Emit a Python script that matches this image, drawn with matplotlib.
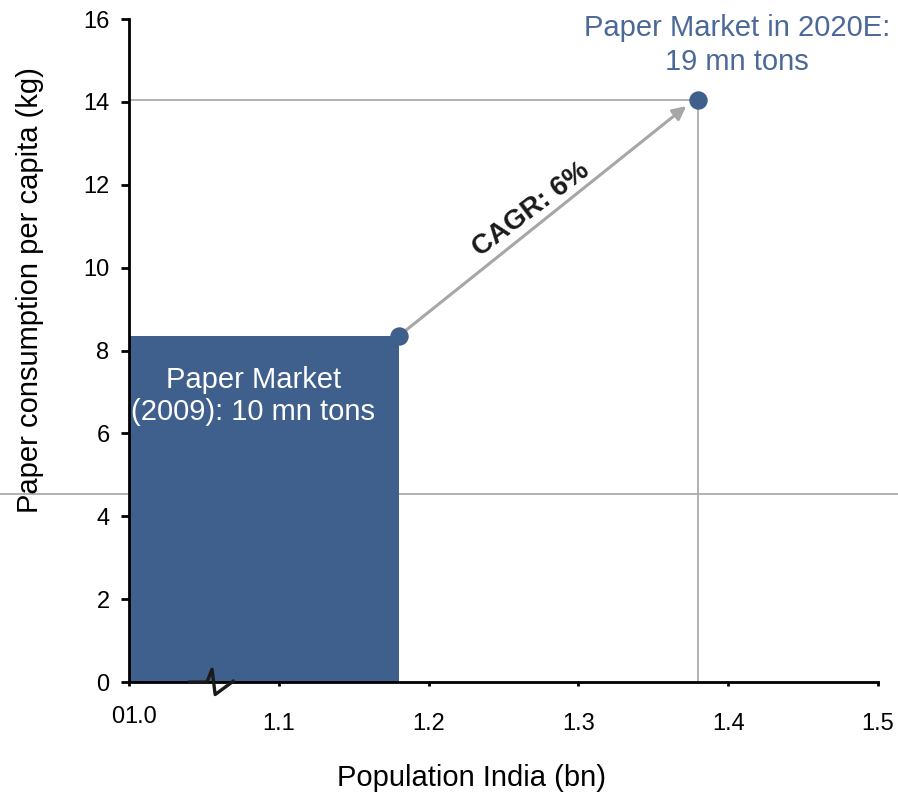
import matplotlib.pyplot as plt
from matplotlib.lines import Line2D

plt.rcParams['font.family'] = ['Liberation Sans', 'DejaVu Sans']

# ── Data ──────────────────────────────────────────────────────────────
pop_2009 = 1.18      # bn people
cons_2009 = 8.35     # kg per capita
pop_2020 = 1.38
cons_2020 = 14.05
ref_level = 4.55     # grey reference line across the figure
x_ticks = [1.0, 1.1, 1.2, 1.3, 1.4, 1.5]
x_labels = ['', '1.1', '1.2', '1.3', '1.4', '1.5']
y_ticks = [0, 2, 4, 6, 8, 10, 12, 14, 16]

blue = '#3F5F8C'
grey = '#A6A6A6'

fig = plt.figure(figsize=(8.98, 7.95), dpi=100)
ax = fig.add_axes([0.1437, 0.142, 0.834, 0.834])
ax.patch.set_alpha(0)

# bar for 2009 market
ax.fill_between([1.0, pop_2009], 0, cons_2009, color=blue, zorder=2, linewidth=0)

# guide lines to the 2020 point
ax.plot([1.0, pop_2020], [cons_2020, cons_2020], color=grey, lw=1.2, zorder=1)
ax.plot([pop_2020, pop_2020], [0, cons_2020], color=grey, lw=1.2, zorder=1)

# points
ax.scatter([pop_2009, pop_2020], [cons_2009, cons_2020], s=150, color=blue, zorder=4)

# arrow
ax.annotate('', xy=(pop_2020 - 0.008, cons_2020 - 0.15),
            xytext=(pop_2009, cons_2009),
            arrowprops=dict(arrowstyle='-|>', color=grey, lw=2.2, mutation_scale=20,
                            shrinkA=0, shrinkB=0),
            zorder=3)
ax.text(1.2685, 11.4, 'CAGR: 6%', rotation=37, fontsize=20, fontweight='bold',
        ha='center', va='center', rotation_mode='anchor', color='#1a1a1a')

# labels
ax.text(1.083, 6.9, 'Paper Market\n(2009): 10 mn tons', color='white', fontsize=21,
        ha='center', va='center', zorder=5, linespacing=1.2)
ax.text(1.406, 15.37, 'Paper Market in 2020E:\n19 mn tons', color='#4A6898',
        fontsize=21, ha='center', va='center', linespacing=1.3)

# axis break zigzag on x axis
ax.plot([1.0407, 1.052, 1.0554, 1.0575, 1.0695],
        [0, 0, 0.31, -0.3, 0.02], color='#1a1a1a', lw=2.4, zorder=6, clip_on=False)

ax.set_xlim(1.0, 1.5)
ax.set_ylim(0, 16)
ax.set_xticks(x_ticks)
ax.set_xticklabels(x_labels, fontsize=17)
ax.set_yticks(y_ticks)
ax.set_yticklabels([str(v) for v in y_ticks], fontsize=17)
ax.tick_params(axis='y', direction='out', length=6, width=2, pad=8)
ax.tick_params(axis='x', direction='out', length=3, width=2, pad=19)
ax.text(0.9965, -0.58, '0', fontsize=17, ha='right', va='top')
ax.text(0.9968, -0.58, '1.0', fontsize=17, ha='left', va='top')

for s in ['top', 'right']:
    ax.spines[s].set_visible(False)
for s in ['left', 'bottom']:
    ax.spines[s].set_linewidth(2)

fig.text(0.5256, 0.0214, 'Population India (bn)', fontsize=21, ha='center', va='center')
fig.text(0.0334, 0.635, 'Paper consumption per capita (kg)', fontsize=21,
         ha='center', va='center', rotation=90)

# horizontal grey line spanning the whole figure
y_fig = ax.transData.transform((1.0, ref_level))[1]
y_fig = fig.transFigure.inverted().transform((0, y_fig))[1]
fig.add_artist(Line2D([0, 1], [y_fig, y_fig], color=grey, lw=1.2, zorder=-1))

fig.savefig('out.png', dpi=100)
